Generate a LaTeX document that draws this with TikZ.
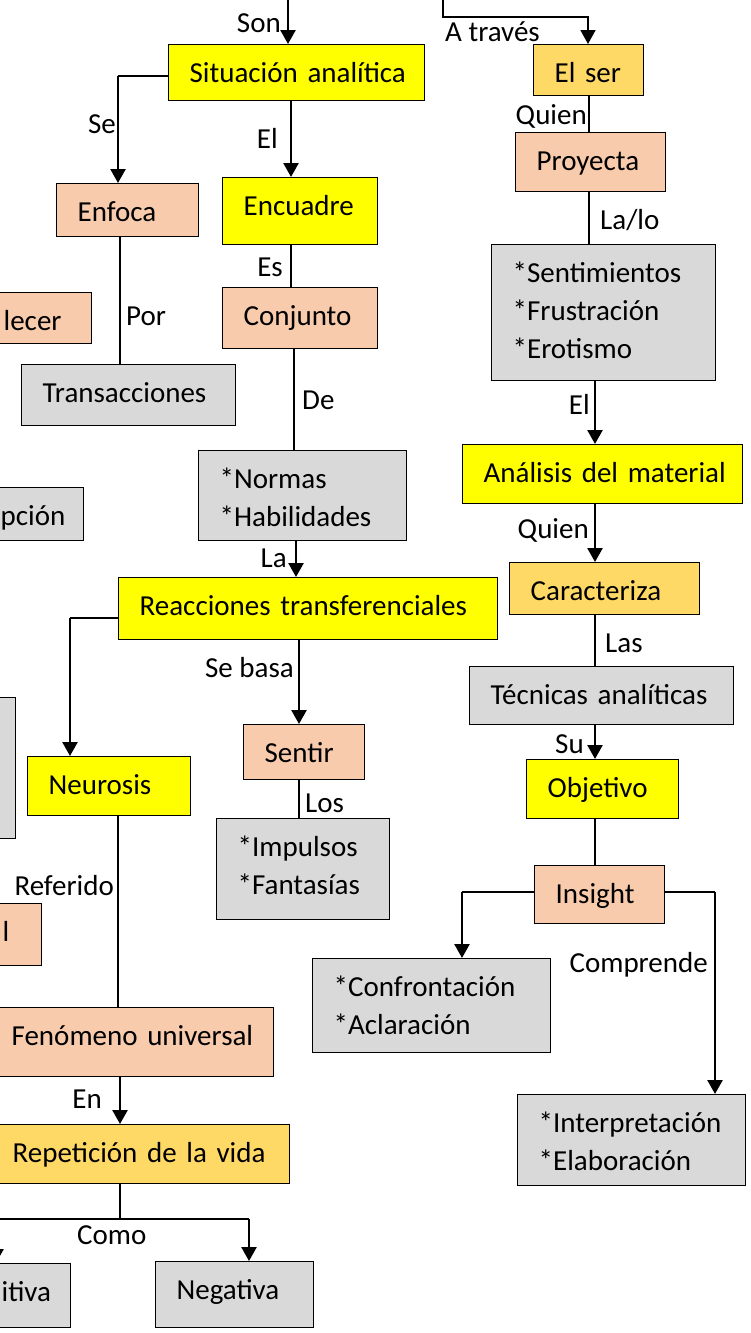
\documentclass[tikz,border=0pt]{standalone}
\usepackage{fontspec}
\setmainfont{Carlito}
\usetikzlibrary{arrows.meta,calc}
\definecolor{cyel}{HTML}{FFFF00}
\definecolor{cpea}{HTML}{F8CBAD}
\definecolor{cgol}{HTML}{FFD966}
\definecolor{cgry}{HTML}{D9D9D9}
\tikzset{
 bx/.style={draw=black, line width=1.3pt, inner xsep=0pt, inner ysep=0pt, anchor=north west, align=left, font=\fontsize{29}{38}\selectfont, text height=37.5pt},
 lbl/.style={inner sep=0pt, font=\fontsize{29}{38}\selectfont},
 conn/.style={line width=1.3pt},
 arr/.style={line width=2.6pt, -{Triangle[width=15pt,length=14pt]}},
 arrthin/.style={line width=1.6pt, -{Triangle[width=15pt,length=14pt]}},
}
\newcommand\cmind{\hspace*{21pt}}
\newcommand\cmbox[7]{%
 \pgfmathsetmacro\cmtw{#4-(#2)}%
 \pgfmathsetmacro\cmtd{#5-(#3)-37.5}%
 \node[bx, fill=#6, text width=\cmtw pt, text depth=\cmtd pt] (#1) at (#2,#3) {#7};}
\begin{document}
\begin{tikzpicture}[x=1pt,y=-1pt]
\useasboundingbox (0,0) rectangle (751,1333);
\fill[white] (0,0) rectangle (751,1333);
\clip (0,0) rectangle (751,1333);
% boxes
\cmbox{sit}{168}{44}{424}{100}{cyel}{\cmind Situación analítica}
\cmbox{enf}{56}{183}{198}{236}{cpea}{\cmind Enfoca}
\cmbox{enc}{222}{177}{377}{244}{cyel}{\cmind Encuadre}
\cmbox{ser}{533}{44}{643}{95}{cgol}{\cmind El ser}
\cmbox{pro}{515}{132}{665}{191}{cpea}{\cmind Proyecta}
\cmbox{sen}{491}{244}{715}{380}{cgry}{\cmind *Sentimientos\\\cmind *Frustración\\\cmind *Erotismo}
\cmbox{est}{-18}{292}{91}{343}{cpea}{\cmind lecer}
\cmbox{tra}{21}{364}{235}{425}{cgry}{\cmind Transacciones}
\cmbox{con}{222}{287}{377}{348}{cpea}{\cmind Conjunto}
\cmbox{nor}{198}{450}{406}{540}{cgry}{\cmind *Normas\\\cmind *Habilidades}
\cmbox{pci}{-21}{487}{83}{540}{cgry}{\cmind pción}
\cmbox{ana}{462}{444}{742}{503}{cyel}{\cmind Análisis del material}
\cmbox{rea}{118}{577}{497}{639}{cyel}{\cmind Reacciones transferenciales}
\cmbox{car}{509}{562}{699}{614}{cgol}{\cmind Caracteriza}
\cmbox{tec}{469}{666}{733}{724}{cgry}{\cmind Técnicas analíticas}
\cmbox{obj}{526}{759}{678}{818}{cyel}{\cmind Objetivo}
\cmbox{ins}{534}{865}{664}{923}{cpea}{\cmind Insight}
\cmbox{neu}{27}{756}{190}{815}{cyel}{\cmind Neurosis}
\node[draw=black, line width=1.3pt, fill=cgry, anchor=north west, inner sep=0pt, minimum width=40pt, minimum height=141pt] (gl) at (-25,697) {};
\cmbox{sent}{243}{724}{364}{779}{cpea}{\cmind Sentir}
\cmbox{imp}{216}{818}{389}{919}{cgry}{\cmind *Impulsos\\\cmind *Fantasías}
\cmbox{pl}{-19}{903}{41}{965}{cpea}{\cmind l}
\cmbox{fen}{-10}{1007}{273}{1076}{cpea}{\cmind Fenómeno universal}
\cmbox{rep}{-9}{1124}{289}{1183}{cgol}{\cmind Repetición de la vida}
\cmbox{pos}{-20}{1263}{70}{1327}{cgry}{\cmind itiva}
\cmbox{neg}{155}{1261}{313}{1327}{cgry}{\cmind Negativa}
\cmbox{cof}{312}{958}{550}{1052}{cgry}{\cmind *Confrontación\\\cmind *Aclaración}
\cmbox{int}{517}{1094}{745}{1185}{cgry}{\cmind *Interpretación\\\cmind *Elaboración}
% connectors
\coordinate (pSon) at (288,-10);
\draw[arr] (pSon) -- (pSon |- sit.north);
\coordinate (pSe) at (118,76);
\draw[conn] (sit.west |- pSe) -- (pSe);
\draw[arr] (pSe) -- (pSe |- enf.north);
\coordinate (xEl) at (291,0);
\draw[arr] (xEl |- sit.south) -- (xEl |- enc.north);
\coordinate (pAt1) at (443,-10);
\coordinate (pAt2) at (443,17);
\coordinate (pAt3) at (588,17);
\draw[arrthin] (pAt1) -- (pAt2) -- (pAt3) -- (pAt3 |- ser.north);
\coordinate (xR) at (589,0);
\draw[conn] (xR |- ser.south) -- (xR |- pro.north);
\draw[conn] (xR |- pro.south) -- (xR |- sen.north);
\coordinate (xS) at (595,0);
\draw[arr] (xS |- sen.south) -- (xS |- ana.north);
\draw[arr] (xS |- ana.south) -- (xS |- car.north);
\draw[conn] (xS |- car.south) -- (xS |- tec.north);
\draw[arr] (xS |- tec.south) -- (xS |- obj.north);
\draw[conn] (xS |- obj.south) -- (xS |- ins.north);
\coordinate (pIL) at (462,892);
\draw[conn] (ins.west |- pIL) -- (pIL);
\draw[arr] (pIL) -- (pIL |- cof.north);
\coordinate (pIR) at (715,892);
\draw[conn] (ins.east |- pIR) -- (pIR);
\draw[arr] (pIR) -- (pIR |- int.north);
\coordinate (xA) at (120,0);
\draw[conn] (xA |- enf.south) -- (xA |- tra.north);
\draw[conn] (xEl |- enc.south) -- (xEl |- con.north);
\coordinate (xB) at (294,0);
\draw[conn] (xB |- con.south) -- (xB |- nor.north);
\coordinate (xC) at (296,0);
\draw[arr] (xC |- nor.south) -- (xC |- rea.north);
\coordinate (pRL) at (70,618);
\draw[conn] (rea.west |- pRL) -- (pRL);
\draw[arr] (pRL) -- (pRL |- neu.north);
\coordinate (xD) at (299,0);
\draw[arr] (xD |- rea.south) -- (xD |- sent.north);
\draw[conn] (xD |- sent.south) -- (xD |- imp.north);
\coordinate (xE) at (118,0);
\draw[conn] (xE |- neu.south) -- (xE |- fen.north);
\coordinate (xF) at (120,0);
\draw[arr] (xF |- fen.south) -- (xF |- rep.north);
\coordinate (pRep) at (120,1219);
\coordinate (pNeg) at (249,1219);
\coordinate (pPos) at (-4,1219);
\draw[conn] (xF |- rep.south) -- (pRep);
\draw[conn] (pPos) -- (pNeg);
\draw[arr] (pNeg) -- (pNeg |- neg.north);
\draw[arr] (pPos) -- (pPos |- pos.north);
% labels
\node[lbl, anchor=base east] (lSon) at (281,32) {Son};
\node[lbl, anchor=base west] (lAt) at (445,41) {A través};
\node[lbl, anchor=base east] (lSe) at (116,133) {Se};
\node[lbl, anchor=base east] (lEl) at (278,148) {El};
\node[lbl, anchor=base east] (lQ1) at (587,124) {Quien};
\node[lbl, anchor=base west] (lLa) at (600,229) {La/lo};
\node[lbl, anchor=base west] (lPor) at (126,325) {Por};
\node[lbl, anchor=base east] (lEs) at (283,276) {Es};
\node[lbl, anchor=base west] (lDe) at (302,409) {De};
\node[lbl, anchor=base east] (lLa2) at (287,567) {La};
\node[lbl, anchor=base east] (lEl2) at (590,414) {El};
\node[lbl, anchor=base east] (lQ2) at (589,538) {Quien};
\node[lbl, anchor=base west] (lLas) at (605,652) {Las};
\node[lbl, anchor=base east] (lSu) at (584,753) {Su};
\node[lbl, anchor=base east] (lSb) at (294,677) {Se basa};
\node[lbl, anchor=base west] (lLos) at (305,812) {Los};
\node[lbl, anchor=base east] (lRef) at (114,895) {Referido};
\node[lbl, anchor=base east] (lEn) at (102,1108) {En};
\node[lbl, anchor=base west] (lComo) at (77,1244) {Como};
\node[lbl, anchor=base east] (lComp) at (708,972) {Comprende};
\end{tikzpicture}
\end{document}
